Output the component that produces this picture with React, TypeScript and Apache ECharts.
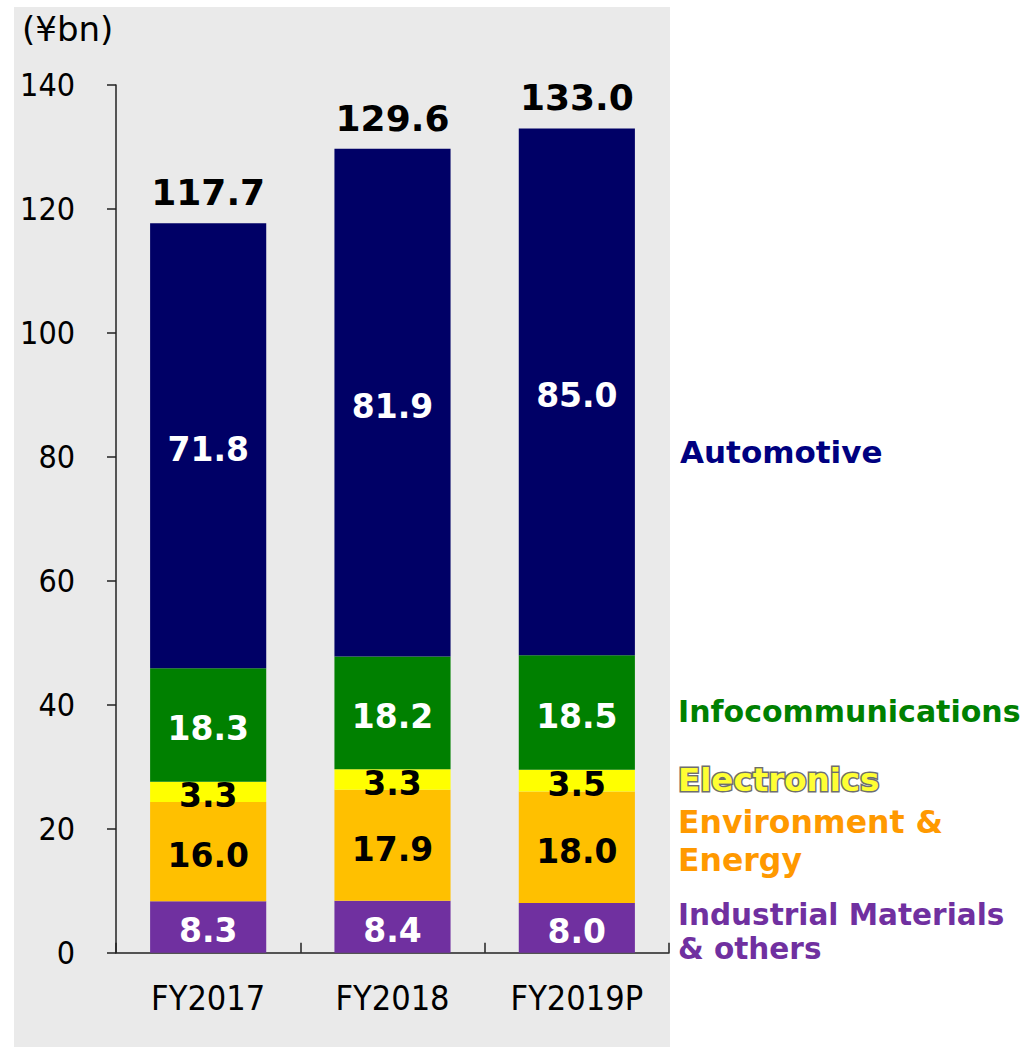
import React, { useEffect, useRef } from "react";
import * as echarts from "echarts";

const categories = ["FY2017", "FY2018", "FY2019P"];
const industrial = [8.3, 8.4, 8.0];
const environment = [16.0, 17.9, 18.0];
const electronics = [3.3, 3.3, 3.5];
const infocomm = [18.3, 18.2, 18.5];
const automotive = [71.8, 81.9, 85.0];
const totals = [117.7, 129.6, 133.0];
const unitLabel = "(¥bn)";

const REG = "'DejaVu Sans Condensed', 'DejaVu Sans', Tahoma, sans-serif";
const BOLD = "'DejaVu Sans', Verdana, sans-serif";

export default function App() {
  const ref = useRef<HTMLDivElement>(null);
  useEffect(() => {
    if (!ref.current) return;
    const chart = echarts.init(ref.current, null, { renderer: "svg" });
    const segLabel = (color: string) => ({
      show: true,
      position: "inside",
      offset: [0, 4],
      color,
      fontFamily: BOLD,
      fontWeight: "bold",
      fontSize: 33,
      textBorderWidth: 0,
      formatter: (p: any) => p.value.toFixed(1),
    });
    const mk = (name: string, data: number[], color: string, lc: string) => ({
      name,
      type: "bar",
      stack: "s",
      data,
      barWidth: "63%",
      itemStyle: { color },
      label: segLabel(lc),
    });
    const legendText = (x: number, y: number, text: string, size: number, fill: string, extra: any = {}) => ({
      type: "text",
      x,
      y,
      style: { text, font: `bold ${size}px ${BOLD}`, fill, verticalAlign: "middle", ...extra },
    });
    chart.setOption({
      animation: false,
      backgroundColor: "#ffffff",
      graphic: [
        { type: "rect", shape: { x: 14, y: 7, width: 656, height: 1040 }, style: { fill: "#EAEAEA" }, z: -10 },
        { type: "text", x: 22, y: 29, style: { text: unitLabel, font: `34px 'DejaVu Sans', sans-serif`, fill: "#000", verticalAlign: "middle" } },
        legendText(680, 452, "Automotive", 31, "#000080"),
        legendText(678, 711, "Infocommunications", 30, "#008000"),
        legendText(678, 780, "Electronics", 32.5, "#FFFF33", { stroke: "#6E6E6E", lineWidth: 3 }),
        legendText(678, 822, "Environment &", 31.5, "#FF9900"),
        legendText(678, 860, "Energy", 31.5, "#FF9900"),
        legendText(678, 915, "Industrial Materials", 29.5, "#7030A0"),
        legendText(678, 949, "& others", 29.5, "#7030A0"),
      ],
      grid: { left: 116, top: 85, right: 352, bottom: 94.3, containLabel: false },
      xAxis: {
        type: "category",
        data: categories,
        axisLine: { show: true, lineStyle: { color: "#222", width: 1.5 } },
        axisTick: { show: true, inside: true, length: 10, lineStyle: { color: "#222", width: 1.5 } },
        axisLabel: { color: "#000", fontFamily: REG, fontSize: 34, margin: 28 },
      },
      yAxis: {
        type: "value",
        min: 0,
        max: 140,
        interval: 20,
        splitLine: { show: false },
        axisLine: { show: true, lineStyle: { color: "#222", width: 1.5 } },
        axisTick: { show: true, length: 9, lineStyle: { color: "#222", width: 1.5 } },
        axisLabel: { color: "#000", fontFamily: REG, fontSize: 32, margin: 41 },
      },
      series: [
        mk("Industrial Materials & others", industrial, "#7030A0", "#fff"),
        mk("Environment & Energy", environment, "#FFC000", "#000"),
        mk("Electronics", electronics, "#FFFF00", "#000"),
        mk("Infocommunications", infocomm, "#008000", "#fff"),
        mk("Automotive", automotive, "#000066", "#fff"),
        {
          name: "Total",
          type: "scatter",
          data: totals,
          symbolSize: 0,
          itemStyle: { color: "#000", opacity: 1 },
          label: {
            show: true,
            position: "top",
            distance: 13,
            color: "#000",
            opacity: 1,
            textBorderWidth: 0,
            fontFamily: BOLD,
            fontWeight: "bold",
            fontSize: 36,
            formatter: (p: any) => p.value.toFixed(1),
          },
          z: 5,
        },
      ],
    });
    return () => chart.dispose();
  }, []);
  return <div ref={ref} style={{ position: "absolute", left: 0, top: 0, width: 1021, height: 1047 }} />;
}
